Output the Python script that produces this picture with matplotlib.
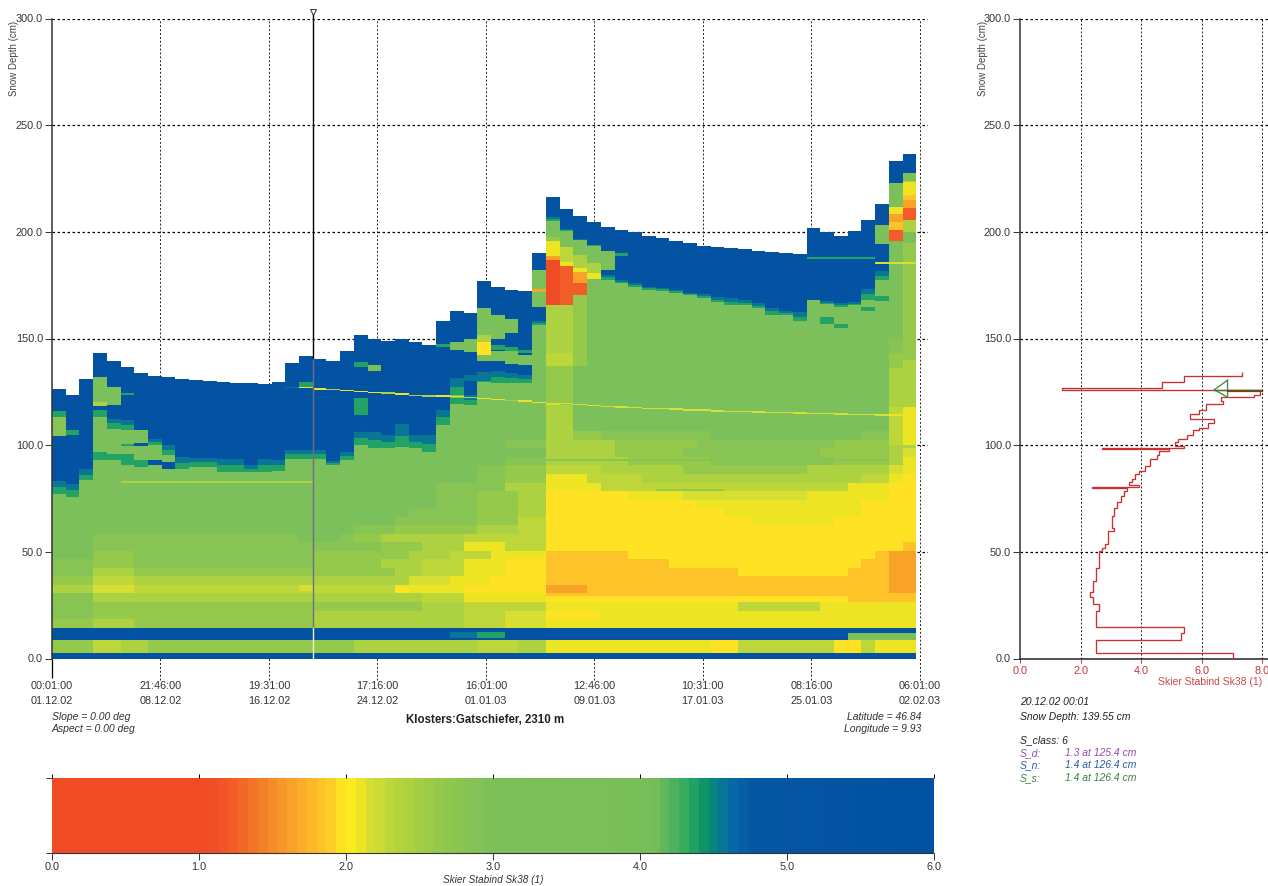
import numpy as np
import matplotlib
matplotlib.use("Agg")
import matplotlib.pyplot as plt
from matplotlib.colors import LinearSegmentedColormap

plt.rcParams['font.family'] = ['Liberation Sans', 'DejaVu Sans']

W, H = 1268.0, 886.0

#===================================================
# Data
#===================================================
tick_days = [0, 7.906, 15.812, 23.719, 31.625, 39.531, 47.437, 55.344, 63.25]
tick_times = ['00:01:00', '21:46:00', '19:31:00', '17:16:00', '16:01:00', '12:46:00', '10:31:00', '08:16:00', '06:01:00']
tick_dates = ['01.12.02', '08.12.02', '16.12.02', '24.12.02', '01.01.03', '09.01.03', '17.01.03', '25.01.03', '02.02.03']
depth_ticks = [0, 50, 100, 150, 200, 250, 300]
cursor_day = 19.0

snow_top = [126.4, 123.4, 131.3, 142.9, 139.3, 136.5, 134, 132.3, 131.9, 131.3, 130.5, 130, 129.6, 129.1, 128.9, 128.4,
            129.6, 138.8, 141.8, 140.3, 139.3, 144, 151.6, 150, 148.7, 150, 148.4, 147, 158.2, 162.9, 162.1, 176.7,
            174.3, 172.8, 172.4, 190.2, 216.3, 210.7, 207.5, 204.5, 202.4, 200.7, 199.8, 198.2, 197.2, 195.7, 194.7,
            193.6, 193.1, 192.5, 192, 191.2, 190.5, 190, 189.5, 201.8, 200, 198.2, 200.4, 205.6, 212.9, 233.2, 236.5]
blue_base = [83.3, 82, 89, 132, 112.5, 111.7, 107, 103, 100, 94.5, 94, 94, 93.8, 93.8, 90.6, 93.8,
             93, 97.7, 97.7, 97.7, 92.7, 96.9, 106.3, 106.3, 104.7, 110, 104.7, 104.7, 116.5, 131.4, 123.5, 130.6,
             134.8, 134, 132.9, 157.9, 206.9, 201.2, 196.5, 193.9, 179.8, 177.2, 175.9, 174.1, 173.6, 172.8, 171.2,
             170.9, 169.3, 168.9, 168.1, 166.5, 164.2, 163.1, 162.3, 168.1, 167.6, 166.5, 167, 173.3, 181.4, 222.8, 227.8]
fringe_base = [77.3, 75.8, 83.6, 132, 107.8, 107, 107, 100, 95.5, 89, 89.8, 89.8, 87.5, 87.5, 87.5, 87.5,
               88, 93.8, 93.8, 93.8, 90.6, 93, 100, 98.5, 98.4, 99, 98.4, 97, 109.5, 123.5, 118.9, 129.8,
               129.3, 129, 129, 156.4, 205.1, 200.4, 196, 193.4, 177.5, 176, 174.3, 172.8, 172.4, 171.5, 170.2,
               169, 167.3, 165.8, 165.5, 164.2, 161.1, 161.1, 158, 168.1, 166, 165, 165.5, 168, 177.5, 222.8, 227.8]

# Sk38 of each colour class seen in the profile
class_sk38 = {'r': 0.9, 'R': 1.25, 'o': 1.65, 'O': 1.8, 'S': 1.97, 'x': 2.08, 'y': 2.17, 'j': 2.28, 'k': 2.45,
              'l': 2.62, 'n': 2.82, 'm': 3.5, 'g': 4.2, 'G': 4.38, 'T': 4.58, 'B': 5.5}

# Lower snowpack, one row per depth bin, columns as runs of class + count
bin_edges = [0, 2.5, 8.5, 14.5, 18.5, 22.5, 26.5, 30.5, 34.5, 38.5, 42.5, 46.5, 50.5, 54.5, 58.5, 62.5, 66.5,
             70.5, 74.5, 78.5, 82.5, 86.5, 90.5, 94.5, 98.5, 102.5, 106.5]
bin_rows = ['B63',
            'l3 j2 k2 l15 k9 j3 k2 x12 S2 j7 S2 j1 x3',
            'B63',
            'l3 k3 l13 k6 k2 k3 j3 y3 x27',
            'n3 l3 l13 k6 k2 k3 j3 y3 S4 x23',
            'n3 l3 l13 l6 l2 k3 j3 j3 x14 j6 x7',
            'n3 k3 k13 k6 k2 j3 x3 x3 S22 O5',
            'k3 y3 j13 j6 x2 x3 S3 S3 o3 O22 o2',
            'l3 j3 k13 k5 k2 y3 x3 S4 O25 o2',
            'n3 k3 l13 l6 k2 j3 x3 S3 O14 S8 O3 o2',
            'n3 l3 n13 l5 k3 j3 x3 S3 O9 S14 O2 o2',
            'm3 l3 n13 l7 k3 j3 x4 O6 S18 O1 o2',
            'm3 n21 l3 k3 x3 j3 S26 O1',
            'm3 n15 m3 n1 l2 k3 k3 j4 j2 S27',
            'm22 n3 l3 l3 k3 j2 S27',
            'm25 n3 n3 l3 j2 S15 x6 S6',
            'm26 n2 n3 l3 k2 S13 x10 S4',
            'm28 n3 l3 k2 S11 x12 S4',
            'm28 n3 l3 k2 S6 x4 y9 x6 S2',
            'm28 n3 n2 k3 x4 j5 j8 j5 x3 S2',
            'm31 n2 l3 x3 j4 k10 k6 j2 x1 S1',
            'm31 n2 l3 j4 k6 l9 k6 y1 x1',
            'm33 n3 k6 l6 n9 l4 k1 x1',
            'm36 k5 l5 n10 l5 k1 y1',
            'm33 n3 k5 l6 n10 l4 k2',
            'm36 l4 n8 m11 n2 k2']

# Patches in the upper snowpack
patch_first = [0, 0, 1, 3, 3, 3, 3, 3, 4, 4, 5, 5, 5, 6, 6, 7, 8, 18, 22, 22, 23, 28, 29, 30, 29, 30, 30,
               31, 31, 31, 31, 31, 32, 32, 32, 33, 33, 33, 34, 34, 35, 35,
               36, 36, 36, 36, 36, 36, 36, 36, 37, 37, 37, 37, 37, 37, 37, 38, 38, 38, 38, 38, 38,
               39, 39, 39, 40, 41, 55, 56, 57, 59, 60, 60, 60,
               61, 61, 61, 61, 61, 61, 61, 61, 61, 62, 62, 62, 62, 62, 62, 62, 62, 62, 62,
               36, 60, 5, 36, 44, 29, 31, 58, 25, 18, 3, 36]
patch_last = [0, 0, 1, 3, 3, 3, 3, 3, 4, 4, 5, 5, 5, 6, 6, 7, 8, 18, 22, 22, 23, 28, 29, 30, 29, 30, 30,
              31, 31, 31, 31, 31, 32, 32, 32, 33, 33, 33, 34, 34, 35, 35,
              36, 36, 36, 36, 36, 36, 36, 36, 37, 37, 37, 37, 37, 37, 37, 38, 38, 38, 38, 38, 38,
              39, 39, 39, 40, 41, 59, 56, 57, 59, 60, 60, 60,
              61, 61, 61, 61, 61, 61, 61, 61, 61, 62, 62, 62, 62, 62, 62, 62, 62, 62, 62,
              37, 62, 18, 60, 48, 30, 32, 62, 25, 18, 4, 62]
patch_low = [104.4, 113, 104.7, 120.3, 118.3, 113, 116.5, 93, 118.8, 93, 123.8, 90.6, 99.5, 90, 99.5, 90.6, 89, 127.3, 136.7, 114, 135, 146, 144.6, 143.5, 119.6, 118.9, 130,
             139.2, 142.6, 148.5, 151.7, 130.6, 139.2, 144.6, 150.1, 138.2, 143.9, 152.4, 137.6, 143, 164.9, 172,
             197.8, 195.4, 188.7, 186.9, 165.4, 143, 137, 100, 193.1, 186, 184, 165.8, 143, 137, 100, 189, 183, 181, 176, 170.5, 137,
             186, 180.6, 177.8, 182, 188.5, 187.5, 157, 155, 163, 194.4, 167.6, 185,
             211.8, 208.4, 204.4, 200.9, 195.4, 143, 136, 118, 100, 224, 223.6, 217.6, 215, 211, 205.6, 200.1, 140, 118, 100,
             100, 185, 82.6, 92.8, 78.6, 9.4, 9.4, 8.5, 30.5, 31.7, 31.7, 29.3]
patch_high = [113, 116, 107, 131.6, 120.3, 116.5, 118.3, 97, 127.3, 95.8, 124.6, 95.8, 100.5, 93, 101, 93, 91.9, 129.7, 139, 121.9, 137.5, 147.4, 148.5, 149.8, 122, 121.2, 133,
              142.3, 148.5, 151.7, 164.6, 134.5, 143.9, 147, 161, 143.9, 145.9, 159, 142.3, 144.6, 182.1, 173,
              205.1, 197.8, 195.4, 188.7, 186.9, 165.4, 143, 137, 200.1, 193.1, 186, 184, 165.8, 143, 137, 196.2, 189, 183, 181, 176, 170.5,
              193.4, 185.3, 180.6, 191.2, 190, 188.3, 160, 157, 165, 203.3, 169.7, 186,
              222.8, 211.8, 208.4, 204.4, 200.9, 150, 143, 136, 118, 227.8, 224, 223.6, 217.6, 215, 211, 205.6, 194.7, 140, 118,
              119, 186, 83.2, 93.6, 79.2, 12.5, 12.5, 11.8, 33.6, 34.5, 34.5, 30.5]
patch_class = 'nGG' + 'mkGBG' + 'mG' + 'GGG' + 'GB' + 'BBGGGmGmmGGT' \
              + 'mSkmT' + 'mGm' + 'mGm' + 'mG' + 'mo' \
              + 'mlxorkjl' + 'mjxRkjl' + 'mkxoRl' \
              + 'mkx' + 'mG' + 'GGGG' + 'mGy' \
              + 'mxoORnlkj' + 'mkxOoRklkx' \
              + 'kyknlTGmSyyO'

# Crust layer running down through the pack, columns 17 to 62
crust_first = 17
crust_depth = [127, 127, 126.3, 126, 125.6, 125, 124.7, 124.3, 123.9, 123.5, 123.2, 123.2, 122.8, 122.4, 122, 121.5,
               121, 120.6, 120, 119.4, 119.5, 119, 118.6, 118, 117.8, 117.5, 117.2, 117, 116.8, 116.5, 116.3, 116.2,
               116, 115.8, 115.6, 115.5, 115.3, 115.2, 115, 114.8, 114.6, 114.4, 114.3, 114.2, 114.1, 114]
crust_class = 'Txxkxxxkxkkxxkxxkxxyyyyyyyyyyyyyyyyyyyyyyyyyxx'

# Colour bar of the Sk38 index
bar_values = [0, 1.05, 1.2, 1.4, 1.6, 1.75, 1.9, 2.0, 2.08, 2.15, 2.3, 2.5, 2.7, 3.0, 4.1, 4.25, 4.35, 4.45, 4.55, 4.65, 4.8, 6.0]
bar_colors = ['#ef4c26', '#ef4c26', '#f15a28', '#f47d2a', '#f99f28', '#fdb82a', '#ffd028', '#fff01f', '#f1e522', '#d8df33',
              '#bcd73b', '#a3ce45', '#8ec74f', '#7dc05a', '#79bf59', '#4cb25f', '#2ca862', '#0d9468', '#097d8c', '#0868a8',
              '#0556a3', '#0151a2']
bar_ticks = [0, 1, 2, 3, 4, 5, 6]

# Profile on 20.12.02 00:01
layer_edges = [0, 2.5, 8.9, 12, 14.7, 22.2, 25.4, 28.6, 31, 36.3, 42.6, 50.4, 52, 53.5, 59.9, 61.3, 67, 70.7, 73.2,
               76.2, 78.6, 80.1, 80.5, 81.4, 82.6, 84.2, 86.4, 88, 90.3, 93.4, 95.5, 97.3, 98, 98.5, 99.7, 101.3,
               102.8, 104.9, 106.9, 108, 110.3, 112.2, 114.7, 116.6, 119.2, 120.5, 122.5, 123.6, 125.7, 126.8,
               129.4, 132.2, 134.3]
layer_sk38 = [7.02, 2.5, 5.3, 5.42, 2.5, 2.62, 2.41, 2.3, 2.41, 2.5, 2.62, 2.71, 2.82, 2.92, 3.11, 3.02, 3.11, 3.21,
              3.32, 3.42, 3.52, 2.39, 3.93, 3.6, 3.71, 3.81, 3.92, 4.12, 4.29, 4.51, 4.6, 4.93, 2.69, 5.42, 5.11,
              5.22, 5.52, 5.72, 5.92, 6.21, 6.41, 5.61, 5.92, 6.13, 6.71, 6.62, 7.72, 7.92, 1.39, 4.69, 5.41, 7.32]
arrow_x = [6.85, 6.41, 6.85, 6.85]
arrow_y = [130.4, 126, 122.5, 130.4]

#===================================================
# Build the snow grid
#===================================================
n_col = len(snow_top)
dz = 0.25
depth_edges = np.arange(0, 245 + dz, dz)
depth_mid = depth_edges[:-1] + dz / 2
day_edges = np.arange(n_col + 1)
grid = np.full((len(depth_mid), n_col), class_sk38['m'])

for r, row in enumerate(bin_rows):
    letters = ''
    for token in row.split():
        letters = letters + token[0] * int(token[1:])
    assert len(letters) == n_col, (r, len(letters))
    inside = (depth_mid >= bin_edges[r]) & (depth_mid < bin_edges[r + 1])
    grid[inside, :] = [class_sk38[c] for c in letters]

for c in range(n_col):
    grid[depth_mid >= blue_base[c], c] = class_sk38['B']
    half = (blue_base[c] + fringe_base[c]) / 2
    grid[(depth_mid >= half) & (depth_mid < blue_base[c]), c] = class_sk38['T']
    grid[(depth_mid >= fringe_base[c]) & (depth_mid < half), c] = class_sk38['G']

assert len(patch_first) == len(patch_last) == len(patch_low) == len(patch_high) == len(patch_class)
for k in range(len(patch_first)):
    inside = (depth_mid >= patch_low[k]) & (depth_mid < patch_high[k])
    grid[np.ix_(inside, range(patch_first[k], patch_last[k] + 1))] = class_sk38[patch_class[k]]

for k in range(len(crust_depth)):
    inside = (depth_mid >= crust_depth[k] - 0.35) & (depth_mid < crust_depth[k] + 0.35)
    grid[inside, crust_first + k] = class_sk38[crust_class[k]]

for c in range(n_col):
    grid[depth_mid >= snow_top[c], c] = np.nan

points = [(v / 6.0, col) for v, col in zip(bar_values, bar_colors)]
cmap = LinearSegmentedColormap.from_list('sk38', points, N=90)


def px_axes(fig, x0, x1, y_top, y_bot):
    return fig.add_axes([x0 / W, 1 - y_bot / H, (x1 - x0) / W, (y_bot - y_top) / H])


fig = plt.figure(figsize=(W / 100, H / 100), dpi=100)
txt = '#333333'
dash = (0, (2, 2))

#===================================================
# Main time / depth panel
#===================================================
ax = px_axes(fig, 52, 928, 18.5, 658.5)
ax.set_xlim(0, (928 - 52) / 13.72)
ax.set_ylim(0, 300)
ax.pcolormesh(day_edges, depth_edges, grid, cmap=cmap, vmin=0, vmax=6, zorder=2, antialiased=False)
ax.hlines(depth_ticks[1:], 0, ax.get_xlim()[1], color='black', lw=0.9, linestyles=[dash], zorder=1)
ax.vlines(tick_days[1:], -10, 300, color='#222222', lw=0.7, linestyles=[dash], zorder=1, clip_on=False)
ax.vlines(tick_days[0], -9, 0, color='black', lw=0.9, clip_on=False)

ax.plot([cursor_day, cursor_day], [snow_top[19], 302], color='black', lw=1.0, zorder=3, clip_on=False)
ax.plot([cursor_day, cursor_day], [14.5, snow_top[19]], color='#6e6e86', lw=1.0, zorder=3)
ax.plot([cursor_day, cursor_day], [0, 14.5], color='#f4f0d8', lw=1.0, zorder=3)
ax.plot([cursor_day], [303], marker='v', ms=5, mfc='white', mec='#333333', mew=0.7, clip_on=False, zorder=4)

for s in ['top', 'right', 'bottom']:
    ax.spines[s].set_visible(False)
ax.spines['left'].set_color('#333333')
ax.spines['left'].set_linewidth(1.1)
ax.set_xticks([])
ax.set_yticks(depth_ticks)
ax.set_yticklabels(['%.1f' % d for d in depth_ticks], fontsize=7.8, color=txt)
ax.tick_params(axis='y', length=5, width=0.7, pad=1.5, color='#333333')
for d, t, l in zip(tick_days, tick_times, tick_dates):
    ax.annotate(t, (d, 0), xytext=(0, -27.5), textcoords='offset pixels', ha='center', va='center', fontsize=7.8, color=txt, annotation_clip=False)
    ax.annotate(l, (d, 0), xytext=(0, -42.5), textcoords='offset pixels', ha='center', va='center', fontsize=7.8, color=txt, annotation_clip=False)

fig.text(14 / W, 1 - 58 / H, 'Snow Depth (cm)', rotation=90, ha='center', va='center', fontsize=7, color='#444444')
fig.text(52 / W, 1 - 717 / H, 'Slope = 0.00 deg', ha='left', va='center', fontsize=7.5, style='italic', color=txt)
fig.text(52 / W, 1 - 729 / H, 'Aspect = 0.00 deg', ha='left', va='center', fontsize=7.5, style='italic', color=txt)
fig.text(485 / W, 1 - 720 / H, 'Klosters:Gatschiefer, 2310 m', ha='center', va='center', fontsize=8.3, weight='bold', color='#222222')
fig.text(921 / W, 1 - 717 / H, 'Latitude = 46.84', ha='right', va='center', fontsize=7.5, style='italic', color=txt)
fig.text(921 / W, 1 - 729 / H, 'Longitude = 9.93', ha='right', va='center', fontsize=7.5, style='italic', color=txt)

#===================================================
# Colour bar
#===================================================
bar = px_axes(fig, 52, 934, 778, 853)
bar.imshow(np.linspace(0, 6, 360)[np.newaxis, :], aspect='auto', cmap=cmap, vmin=0, vmax=6, extent=[0, 6, 0, 1], interpolation='nearest')
for s in bar.spines.values():
    s.set_visible(False)
bar.set_xticks(bar_ticks)
bar.set_xticklabels(['%.1f' % v for v in bar_ticks], fontsize=7.8, color=txt)
bar.set_yticks([0, 1])
bar.set_yticklabels([])
bar.tick_params(axis='x', length=5, width=0.7, pad=1.5, color='#333333')
bar.tick_params(axis='y', length=4, width=0.7, color='#333333')
bar.vlines(bar_ticks, 1.0, 1.05, color='black', lw=0.7, clip_on=False)
bar.hlines(0, 0, 6, color='#333333', lw=0.8, clip_on=False)
bar.set_xlim(0, 6)
bar.set_ylim(0, 1)
fig.text(493 / W, 1 - 880 / H, 'Skier Stabind Sk38 (1)', ha='center', va='center', fontsize=7.2, style='italic', color=txt)

#===================================================
# Profile panel
#===================================================
pr = px_axes(fig, 1020, 1268, 18.5, 658.5)
pr.set_xlim(0, (1268 - 1020) / 30.3)
pr.set_ylim(0, 300)
pr.hlines(depth_ticks[1:], 0, pr.get_xlim()[1], color='black', lw=0.9, linestyles=[dash], zorder=1)
pr.vlines([2, 4, 6, 8], 0, 300, color='#222222', lw=0.7, linestyles=[dash], zorder=1)
pr.stairs(layer_sk38, layer_edges, orientation='horizontal', baseline=None, color='#c9302f', lw=0.95, zorder=3)
pr.plot(arrow_x, arrow_y, color='#4f8f4a', lw=1.0, zorder=4)
pr.plot([6.41, 8.0], [126, 126], color='#3f7a30', lw=1.0, zorder=5)
pr.plot([6.85, 8.0], [125.6, 125.6], color='#6a4a14', lw=1.6, zorder=5)

for s in ['top', 'right']:
    pr.spines[s].set_visible(False)
pr.spines['left'].set_color('#333333')
pr.spines['left'].set_linewidth(1.1)
pr.spines['bottom'].set_color('#222222')
pr.spines['bottom'].set_linewidth(1.1)
pr.set_yticks(depth_ticks)
pr.set_yticklabels(['%.1f' % d for d in depth_ticks], fontsize=7.8, color=txt)
pr.set_xticks([0, 2, 4, 6, 8])
pr.set_xticklabels(['0.0', '2.0', '4.0', '6.0', '8.0'], fontsize=7.8, color='#c8323a')
pr.tick_params(axis='y', length=5, width=0.7, pad=1.5, color='#333333')
pr.tick_params(axis='x', length=3, width=0.7, pad=2.5, color='#c8323a')

red = '#c8484a'
fig.text(983 / W, 1 - 58 / H, 'Snow Depth (cm)', rotation=90, ha='center', va='center', fontsize=7, color='#444444')
fig.text(1262 / W, 1 - 682 / H, 'Skier Stabind Sk38 (1)', ha='right', va='center', fontsize=7.5, color=red)
fig.text(1020 / W, 1 - 702 / H, '20.12.02 00:01', ha='left', va='center', fontsize=7.5, style='italic', color='#222222')
fig.text(1020 / W, 1 - 717 / H, 'Snow Depth: 139.55 cm', ha='left', va='center', fontsize=7.5, style='italic', color='#222222')
fig.text(1020 / W, 1 - 740 / H, 'S_class: 6', ha='left', va='center', fontsize=7.5, style='italic', color='#222222')
for y, name, val, col in zip([753, 765, 778], ['S_d:', 'S_n:', 'S_s:'],
                             ['1.3 at 125.4 cm', '1.4 at 126.4 cm', '1.4 at 126.4 cm'],
                             ['#8e4fa8', '#2a5caa', '#3f7f3f']):
    fig.text(1020 / W, 1 - y / H, name, ha='left', va='center', fontsize=7.5, style='italic', color=col)
    fig.text(1065 / W, 1 - y / H, val, ha='left', va='center', fontsize=7.5, style='italic', color=col)

fig.savefig('out.png', dpi=100)
print("Done")
